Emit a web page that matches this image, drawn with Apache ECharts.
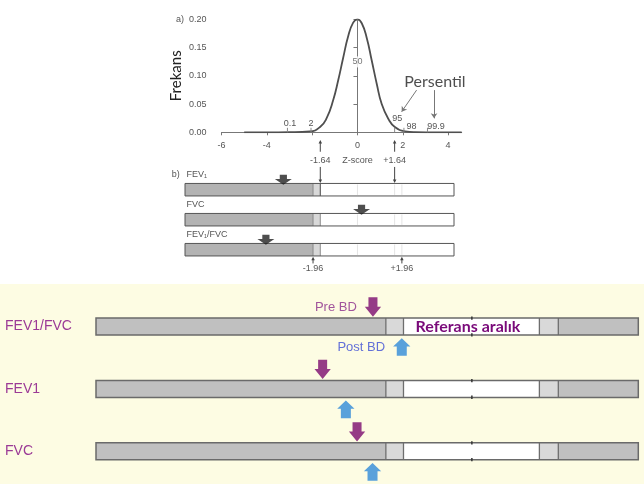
<!DOCTYPE html>
<html>
<head>
<meta charset="utf-8">
<script src="https://cdn.jsdelivr.net/npm/echarts@6.0.0/dist/echarts.min.js"></script>
<style>html,body{margin:0;padding:0;background:#fff;}#chart{width:644px;height:484px;}</style>
</head>
<body>
<div id="chart"></div>
<script>
// ---------- panel a: frequency curve over the z-score ----------
const curveZ = [-5.0, -4.0, -3.0, -2.10, -1.65, -1.36, -1.07, -0.85, -0.63, -0.41, -0.19, 0, 0.19, 0.41, 0.63, 0.85, 1.07, 1.36, 1.65, 2.10, 2.54, 3.5, 4.6];
const curveF = [0, 0, 0.0003, 0.0015, 0.0094, 0.025, 0.057, 0.092, 0.132, 0.170, 0.194, 0.2, 0.193, 0.167, 0.127, 0.086, 0.050, 0.024, 0.0094, 0.0018, 0.0003, 0, 0];
const xTicksA = [-6, -4, -2, 0, 2, 4];
const xLabelsA = [-6, -4, 0, 2, 4];
const pctZ = [-3.09, -2.05, 1.64, 2.05, 3.09];
const pctText = ['0.1', '2', '95', '98', '99.9'];
const medianZ = 0;
const medianF = 0.1246;
const medianText = '50';
const persentilText = 'Persentil';
const persentilAt = [3.42, 0.0893];
const pointerFrom = [[2.61, 0.0747], [3.38, 0.0747]];
const pointerTo = [[1.95, 0.0364], [3.38, 0.0247]];
const cutTop = [-1.64, 1.64];
const cutBottom = [-1.96, 1.96];
const zName = 'Z-score';
const yNameA = 'Frekans';

// ---------- panel b ----------
const rowsB = ['FEV₁', 'FVC', 'FEV₁/FVC'];
const edgesB = [-7.61, -1.96, -1.64, 4.26];
const faintB = [0, 1.64, 1.96];
const patientB = [-3.27, 0.18, -4.04];

// ---------- panel c (spirometry report) ----------
const rowsC = ['FEV1/FVC', 'FEV1', 'FVC'];
const edgesC = [-8.74, -2.0, -1.59, 1.57, 2.01, 3.87];
const preBD = [-2.30, -3.47, -2.67];
const postBD = [-1.63, -2.93, -2.31];
const arrowNames = ['Pre BD', 'Post BD'];
const rangeText = 'Referans aralık';

const FONT = 'Arial, "Liberation Sans", sans-serif';

function arrowV(x, y0, y1, color, head) {
  const dir = y1 > y0 ? 1 : -1;
  return [
    {type: 'line', shape: {x1: x, y1: y0, x2: x, y2: y1 - dir * 2}, style: {stroke: color, lineWidth: 1}},
    {type: 'polygon', shape: {points: [[x, y1], [x - head / 2, y1 - dir * head], [x + head / 2, y1 - dir * head]]}, style: {fill: color}}
  ];
}

function renderB(params, api) {
  const row = api.value(1);
  const bw = api.size([0, 1])[1] * 0.417;
  const cy = api.coord([edgesB[0], row])[1];
  const top = cy - bw / 2;
  const xs = edgesB.map(e => api.coord([e, row])[0]);
  const fills = ['#b3b3b3', '#d8d8d8', '#ffffff'];
  const kids = [];
  for (let k = 0; k < fills.length; k++) {
    kids.push({type: 'rect', shape: {x: xs[k], y: top, width: xs[k + 1] - xs[k], height: bw}, style: {fill: fills[k]}});
  }
  faintB.forEach(z => {
    const x = api.coord([z, row])[0];
    kids.push({type: 'line', shape: {x1: x, y1: top + 1, x2: x, y2: top + bw - 1}, style: {stroke: '#e4e4e4', lineWidth: 1}});
  });
  for (let k = 1; k < xs.length - 1; k++) {
    kids.push({type: 'line', shape: {x1: xs[k], y1: top, x2: xs[k], y2: top + bw}, style: {stroke: (row === 0 && k === 2) ? '#444' : '#8a8a8a', lineWidth: 1}});
  }
  kids.push({type: 'rect', shape: {x: xs[0], y: top, width: xs[xs.length - 1] - xs[0], height: bw}, style: {fill: 'none', stroke: '#555', lineWidth: 1}});
  kids.push({type: 'text', x: xs[0] + 1.5, y: top - 8.5, style: {text: rowsB[row], fill: '#555', font: '9px ' + FONT, align: 'left', verticalAlign: 'middle'}});
  if (row === 0) {
    kids.push({type: 'text', x: xs[0] - 13.3, y: top - 8.5, style: {text: 'b)', fill: '#555', font: '9px ' + FONT, align: 'left', verticalAlign: 'middle'}});
  }
  return {type: 'group', children: kids};
}

function renderCuts(params, api) {
  const bw = api.size([0, 1])[1] * 0.417;
  const kids = [];
  const rowTop = api.coord([0, 0])[1] - bw / 2;
  const rowBot = api.coord([0, 2])[1] + bw / 2;
  cutTop.forEach(z => {
    const x = api.coord([z, 0])[0];
    kids.push(...arrowV(x, rowTop - 31.7, rowTop - 43.5, '#444', 3.5));
    kids.push({type: 'text', x: x, y: rowTop - 22.5, style: {text: (z > 0 ? '+' : '') + z.toFixed(2), fill: '#555', font: '9px ' + FONT, align: 'center', verticalAlign: 'middle'}});
    kids.push(...arrowV(x, rowTop - 16.5, rowTop - 0.5, '#444', 3.5));
  });
  const x0 = api.coord([0, 0])[0];
  kids.push({type: 'text', x: x0, y: rowTop - 22.5, style: {text: zName, fill: '#555', font: '9px ' + FONT, align: 'center', verticalAlign: 'middle'}});
  cutBottom.forEach(z => {
    const x = api.coord([z, 2])[0];
    kids.push(...arrowV(x, rowBot + 7.5, rowBot + 0.8, '#444', 3.5));
    kids.push({type: 'text', x: x, y: rowBot + 12.8, style: {text: (z > 0 ? '+' : '') + z.toFixed(2), fill: '#555', font: '9px ' + FONT, align: 'center', verticalAlign: 'middle'}});
  });
  return {type: 'group', children: kids};
}

const pctLabelOff = [[2.5, -8.3], [0, -8.3], [2.6, -13.3], [7.7, -5.6], [8.5, -5.6]];
function renderPct(params, api) {
  const i = params.dataIndex;
  const p = api.coord([api.value(0), api.value(1)]);
  return {type: 'group', children: [
    {type: 'line', shape: {x1: p[0], y1: p[1] - 4.5, x2: p[0], y2: p[1]}, style: {stroke: '#888', lineWidth: 1}},
    {type: 'text', x: p[0] + pctLabelOff[i][0], y: p[1] + pctLabelOff[i][1], style: {text: pctText[i], fill: '#555', font: '9px ' + FONT, align: 'center', verticalAlign: 'middle'}}
  ]};
}

function renderC(params, api) {
  const row = api.value(1);
  const bw = api.size([0, 1])[1] * 0.272;
  const cy = api.coord([edgesC[0], row])[1];
  const top = cy - bw / 2;
  const xs = edgesC.map(e => api.coord([e, row])[0]);
  const fills = ['#c0c0c0', '#d9d9d9', '#ffffff', '#d9d9d9', '#c0c0c0'];
  const kids = [];
  for (let k = 0; k < fills.length; k++) {
    kids.push({type: 'rect', shape: {x: xs[k], y: top, width: xs[k + 1] - xs[k], height: bw}, style: {fill: fills[k]}});
  }
  for (let k = 1; k < xs.length - 1; k++) {
    kids.push({type: 'line', shape: {x1: xs[k], y1: top, x2: xs[k], y2: top + bw}, style: {stroke: '#6e6e6e', lineWidth: 1.3}});
  }
  kids.push({type: 'rect', shape: {x: xs[0], y: top, width: xs[xs.length - 1] - xs[0], height: bw}, style: {fill: 'none', stroke: '#6a6a6a', lineWidth: 1.5}});
  const xm = api.coord([0, row])[0];
  kids.push({type: 'line', shape: {x1: xm, y1: top - 1.5, x2: xm, y2: top + 1.8}, style: {stroke: '#333', lineWidth: 1.5}});
  kids.push({type: 'line', shape: {x1: xm, y1: top + bw - 1.8, x2: xm, y2: top + bw + 1.5}, style: {stroke: '#333', lineWidth: 1.5}});
  if (row === 0) {
    kids.push({type: 'text', x: xs[2] + 12, y: cy + 0.5, style: {text: rangeText, fill: '#7a0a7a', font: 'bold 16px Lato, sans-serif', align: 'left', verticalAlign: 'middle'}});
  }
  return {type: 'group', children: kids};
}

const downB = 'path://M2.6,0L6.4,0L6.4,4.3L9,4.3L4.5,10L0,4.3L2.6,4.3Z';
const downC = 'path://M3.65,0L12.65,0L12.65,9.3L16.3,9.3L8.15,19.3L0,9.3L3.65,9.3Z';
const upC = 'path://M8.65,0L17.3,8.3L13.65,8.3L13.65,17.7L3.65,17.7L3.65,8.3L0,8.3Z';

const option = {
  animation: false,
  backgroundColor: '#ffffff',
  graphic: [{type: 'rect', left: 0, top: 284, z: -10, shape: {width: 644, height: 200}, style: {fill: '#fdfce3'}}],
  grid: [
    {left: 221.5, top: 19.3, width: 240.2, height: 113, outerBoundsMode: 'none'},
    {left: 185, top: 174.7, width: 269, height: 90, outerBoundsMode: 'none'},
    {left: 96, top: 295.3, width: 542.3, height: 187.2, outerBoundsMode: 'none'}
  ],
  xAxis: [
    {type: 'value', gridIndex: 0, min: -6, max: 4.6, interval: 2, offset: 6,
      axisLine: {show: true, lineStyle: {color: '#777', width: 1}},
      axisTick: {show: true, length: 3, lineStyle: {color: '#777'}, customValues: xTicksA},
      axisLabel: {fontSize: 9, color: '#555', margin: 3, fontFamily: FONT, customValues: xLabelsA,
        formatter: v => (xLabelsA.indexOf(v) >= 0 ? String(v) : '')},
      splitLine: {show: false}},
    {type: 'value', gridIndex: 1, min: edgesB[0], max: edgesB[edgesB.length - 1], show: false},
    {type: 'value', gridIndex: 2, min: edgesC[0], max: edgesC[edgesC.length - 1], show: false}
  ],
  yAxis: [
    {type: 'value', gridIndex: 0, min: 0, max: 0.2, interval: 0.05, offset: 10,
      name: yNameA, nameLocation: 'middle', nameGap: 28, nameRotate: 90, nameMoveOverlap: false,
      nameTextStyle: {fontFamily: 'Lato, sans-serif', fontSize: 15, color: '#222'},
      axisLine: {show: true, lineStyle: {color: '#777', width: 1}},
      axisTick: {show: true, length: 4, lineStyle: {color: '#777'}},
      axisLabel: {fontSize: 9, color: '#555', margin: 5, fontFamily: FONT,
        formatter: v => (Math.abs(v - 0.2) < 1e-9 ? 'a)  ' : '') + v.toFixed(2)},
      splitLine: {show: false}},
    {type: 'category', gridIndex: 1, data: rowsB, inverse: true, show: false},
    {type: 'category', gridIndex: 2, data: rowsC, inverse: true,
      axisLine: {show: false}, axisTick: {show: false}, splitLine: {show: false},
      axisLabel: {show: true, align: 'left', margin: 91, color: '#9b3a96', fontSize: 14, fontFamily: FONT}}
  ],
  series: [
    {type: 'line', xAxisIndex: 0, yAxisIndex: 0, data: curveZ.map((z, i) => [z, curveF[i]]),
      smooth: 0.5, showSymbol: false, symbol: 'none',
      lineStyle: {color: '#4f4f4f', width: 1.8}, z: 3,
      markLine: {silent: true, animation: false, label: {show: false},
        lineStyle: {color: '#777', width: 1, type: 'solid'},
        data: [
          [{coord: [medianZ, 0], symbol: 'none'}, {coord: [medianZ, 0.2], symbol: 'none'}],
          [{coord: pointerFrom[0], symbol: 'none'}, {coord: pointerTo[0], symbol: 'arrow', symbolSize: 5}],
          [{coord: pointerFrom[1], symbol: 'none'}, {coord: pointerTo[1], symbol: 'arrow', symbolSize: 5}]
        ]}},
    {type: 'custom', xAxisIndex: 0, yAxisIndex: 0, data: pctZ.map(z => [z, 0]), renderItem: renderPct, z: 4, silent: true},
    {type: 'scatter', xAxisIndex: 0, yAxisIndex: 0, symbolSize: 1, itemStyle: {color: 'rgba(0,0,0,0)'}, z: 6, silent: true,
      data: [
        {value: [medianZ, medianF], label: {show: true, position: 'inside', formatter: medianText, color: '#555', fontSize: 9, fontFamily: FONT, backgroundColor: '#fff', padding: [1, 1]}},
        {value: persentilAt, label: {show: true, position: 'inside', formatter: persentilText, color: '#222', fontSize: 16, fontFamily: 'Lato, sans-serif'}}
      ]},
    {type: 'custom', xAxisIndex: 1, yAxisIndex: 1, data: rowsB.map((r, i) => [edgesB[0], i]), renderItem: renderB, z: 2, silent: true},
    {type: 'custom', xAxisIndex: 1, yAxisIndex: 1, data: [[0, 0]], renderItem: renderCuts, z: 3, silent: true},
    {type: 'scatter', xAxisIndex: 1, yAxisIndex: 1, symbol: downB, symbolSize: [17, 10], symbolOffset: [0, -10],
      itemStyle: {color: '#222'}, z: 5, silent: true, data: patientB.map((z, i) => [z, i])},
    {type: 'custom', xAxisIndex: 2, yAxisIndex: 2, data: rowsC.map((r, i) => [edgesC[0], i]), renderItem: renderC, z: 2, silent: true},
    {type: 'scatter', xAxisIndex: 2, yAxisIndex: 2, symbol: downC, symbolSize: [16.3, 19.3], symbolOffset: [0, -19.5],
      itemStyle: {color: '#7a0a6e'}, z: 5, silent: true,
      data: preBD.map((z, i) => i === 0 ? {value: [z, i], label: {show: true, position: 'left', distance: 8, formatter: arrowNames[0], color: '#8a2a8a', fontSize: 13, fontFamily: FONT}} : [z, i])},
    {type: 'scatter', xAxisIndex: 2, yAxisIndex: 2, symbol: upC, symbolSize: [17.3, 17.7], symbolOffset: [0, 20.5],
      itemStyle: {color: '#2f8ad8'}, z: 5, silent: true,
      data: postBD.map((z, i) => i === 0 ? {value: [z, i], label: {show: true, position: 'left', distance: 8, formatter: arrowNames[1], color: '#3b4cd4', fontSize: 13, fontFamily: FONT}} : [z, i])}
  ]
};

const chart = echarts.init(document.getElementById('chart'), null, {renderer: 'canvas'});
chart.setOption(option);
</script>
</body>
</html>
